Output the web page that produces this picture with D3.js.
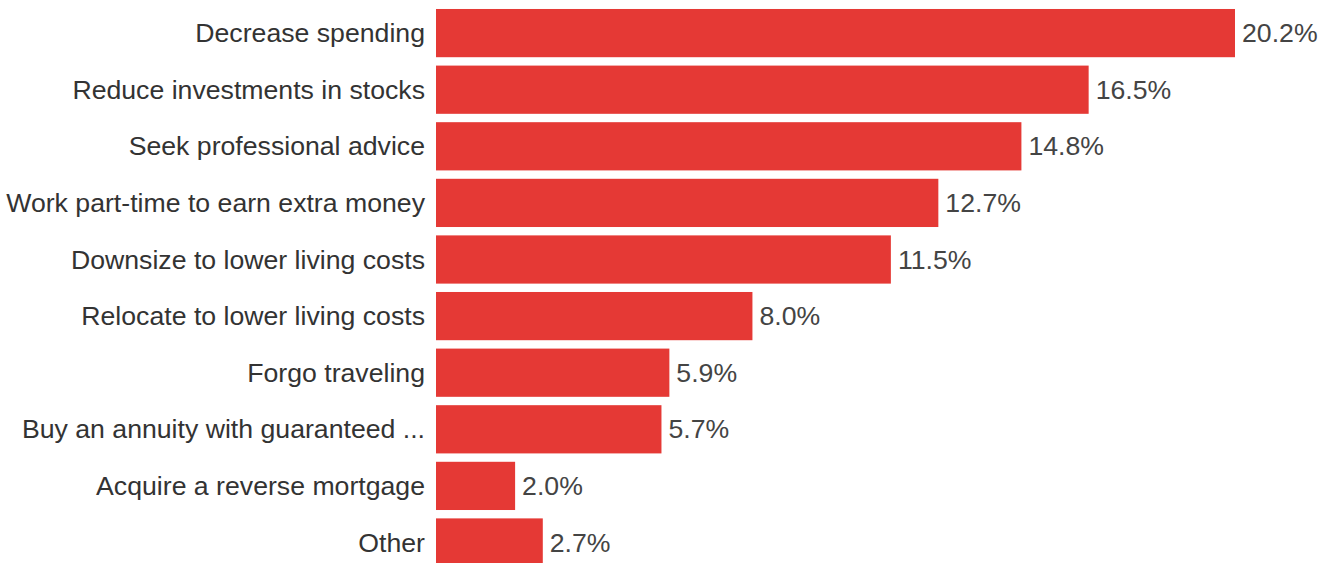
<!DOCTYPE html>
<html>
<head>
<meta charset="utf-8">
<script src="https://cdn.jsdelivr.net/npm/d3@7"></script>
<style>
  html, body { margin: 0; padding: 0; background: #fff; }
  svg { display: block; }
</style>
</head>
<body>
<div id="chart"></div>
<script>
// Share of respondents choosing each action (percent)
const categories = [
  "Decrease spending",
  "Reduce investments in stocks",
  "Seek professional advice",
  "Work part-time to earn extra money",
  "Downsize to lower living costs",
  "Relocate to lower living costs",
  "Forgo traveling",
  "Buy an annuity with guaranteed ...",
  "Acquire a reverse mortgage",
  "Other"
];
const values = [20.2, 16.5, 14.8, 12.7, 11.5, 8.0, 5.9, 5.7, 2.0, 2.7];

const width = 1328, height = 563;
const barLeft = 436;
const font = "'Liberation Sans', Arial, sans-serif";
const fontSize = 26.67;

const svg = d3.select("#chart").append("svg")
  .attr("width", width)
  .attr("height", height);

const x = d3.scaleLinear()
  .domain([0, 20.2])
  .range([barLeft, 1235]);

const y = d3.scaleBand()
  .domain(categories)
  .range([4.8, 570.8])
  .paddingInner(0.148)
  .paddingOuter(0.074);

const data = categories.map((c, i) => ({ c, v: values[i] }));

svg.append("g").selectAll("rect")
  .data(data)
  .join("rect")
  .attr("x", x(0))
  .attr("y", d => y(d.c))
  .attr("width", d => x(d.v) - x(0))
  .attr("height", y.bandwidth())
  .attr("fill", "#e53935");

// category labels, right-aligned against the bars
svg.append("g").selectAll("text")
  .data(data)
  .join("text")
  .attr("x", barLeft - 11)
  .attr("y", d => y(d.c) + y.bandwidth() / 2)
  .attr("dy", "0.34em")
  .attr("text-anchor", "end")
  .attr("font-family", font)
  .attr("font-size", fontSize)
  .attr("fill", "#333")
  .text(d => d.c);

// value labels at the end of each bar
svg.append("g").selectAll("text")
  .data(data)
  .join("text")
  .attr("x", d => x(d.v) + 7)
  .attr("y", d => y(d.c) + y.bandwidth() / 2)
  .attr("dy", "0.34em")
  .attr("font-family", font)
  .attr("font-size", fontSize)
  .attr("fill", "#444")
  .text(d => d.v.toFixed(1) + "%");
</script>
</body>
</html>
